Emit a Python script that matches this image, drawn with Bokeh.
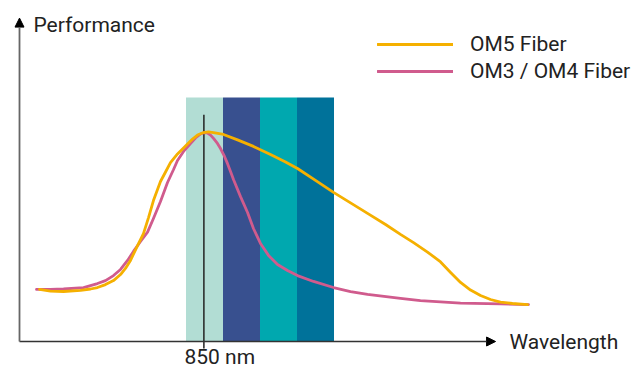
from bokeh.plotting import figure
from bokeh.models import Range1d, Arrow, NormalHead, Label, Legend, LegendItem
from bokeh.embed import file_html
from bokeh.resources import INLINE

# ---- data (wavelength in nm, performance in arbitrary units) ----
om3_nm = [713.8, 725.1, 735.7, 751.9, 763.2, 769.7, 776.2, 781.9, 787.6, 792.4, 798.1, 803.8,
          808.6, 814.3, 820.0, 824.9, 828.1, 833.0, 838.6, 842.7, 846.8, 850.0, 852.4, 854.9,
          857.3, 860.5, 863.0, 866.2, 868.6, 871.1, 873.5, 879.2, 884.9, 889.7, 895.4, 901.9,
          909.2, 917.3, 925.4, 938.4, 954.6, 968.4, 982.2, 1008.9, 1025.1, 1057.6, 1090.0, 1112.7]
om3_perf = [24.8, 24.8, 25.0, 25.7, 27.6, 29.0, 31.4, 34.3, 38.6, 42.9, 47.6, 52.1,
            58.6, 66.7, 75.7, 81.9, 86.2, 90.5, 94.3, 96.9, 98.8, 99.5, 99.3, 98.3,
            96.7, 94.3, 91.9, 88.1, 84.8, 81.0, 77.1, 69.0, 61.4, 53.8, 46.7, 41.0,
            36.7, 33.8, 31.4, 28.6, 25.7, 23.8, 22.4, 20.5, 19.5, 18.3, 17.9, 17.6]

om5_nm = [716.2, 725.1, 735.7, 749.5, 757.6, 763.2, 769.7, 776.2, 781.9, 785.9, 790.0, 795.7,
          800.5, 804.6, 808.6, 814.3, 818.4, 822.4, 828.1, 833.0, 836.2, 840.3, 844.3, 849.2,
          853.2, 857.3, 865.4, 876.8, 889.7, 903.5, 915.7, 925.4, 940.0, 954.6, 968.4, 982.2,
          996.8, 1008.9, 1019.5, 1030.8, 1041.4, 1049.5, 1057.6, 1065.7, 1073.8, 1081.9,
          1090.0, 1099.7, 1111.9]
om5_perf = [24.8, 24.0, 23.8, 24.3, 25.0, 25.7, 27.1, 29.0, 31.9, 34.8, 38.6, 45.7,
            51.4, 59.0, 67.1, 76.2, 80.7, 85.2, 89.3, 92.1, 94.0, 96.4, 98.3, 99.5,
            99.8, 99.5, 98.6, 96.0, 92.9, 89.0, 85.5, 82.4, 76.7, 71.0, 66.0, 61.0,
            55.7, 51.0, 47.1, 42.6, 37.9, 32.9, 28.1, 24.5, 21.9, 20.0,
            18.8, 18.1, 17.6]

band_center_nm = [850, 880, 910, 940]
band_width_nm = 30
band_top = 116.2
band_colors = ["#B2DDD4", "#38508F", "#00A8AF", "#00729A"]

marker_nm = 849.5
marker_label = "850 nm"

AXIS_X0, AXIS_X1 = 700, 1086
AXIS_Y1 = 154

ORANGE = "#F5B000"
PINK = "#D05B8D"
FONT = "Roboto"
FS = "21px"
TXT = "#222222"

p = figure(width=639, height=367, output_backend="svg", toolbar_location=None,
           x_range=Range1d(684.59, 1202.7), y_range=Range1d(-12.38, 162.38),
           min_border=0, min_border_left=0, min_border_right=0,
           min_border_top=0, min_border_bottom=0)
p.xaxis.visible = False
p.yaxis.visible = False
p.xgrid.visible = False
p.ygrid.visible = False
p.outline_line_color = None
p.background_fill_color = "white"
p.border_fill_color = "white"

# bands
lefts = [c - band_width_nm / 2 for c in band_center_nm]
rights = [c + band_width_nm / 2 for c in band_center_nm]
p.quad(left=lefts, right=rights, bottom=[0] * 4, top=[band_top] * 4,
       fill_color=band_colors, line_color=None)

# 850 nm marker
p.segment(x0=[marker_nm], y0=[-3.3], x1=[marker_nm], y1=[108], line_color="#222222", line_width=1.5)

# curves
r_om3 = p.line(om3_nm, om3_perf, line_color=PINK, line_width=2.8, line_join="round", line_cap="round")
r_om5 = p.line(om5_nm, om5_perf, line_color=ORANGE, line_width=2.8, line_join="round", line_cap="round")

# axes with arrows
p.add_layout(Arrow(x_start=AXIS_X0, y_start=0, x_end=AXIS_X1, y_end=0,
                   line_color="#333333", line_width=1.5,
                   end=NormalHead(size=9, fill_color="black", line_color="black")))
p.add_layout(Arrow(x_start=AXIS_X0, y_start=0, x_end=AXIS_X0, y_end=AXIS_Y1,
                   line_color="#666666", line_width=1.8,
                   end=NormalHead(size=9, fill_color="black", line_color="black")))

# texts
p.add_layout(Label(x=33, y=343, x_units="screen", y_units="screen", text="Performance",
                   text_font=FONT, text_font_size=FS, text_color=TXT, text_baseline="middle"))
p.add_layout(Label(x=509, y=26, x_units="screen", y_units="screen", text="Wavelength",
                   text_font=FONT, text_font_size=FS, text_color=TXT, text_baseline="middle"))
p.add_layout(Label(x=184, y=11, x_units="screen", y_units="screen", text=marker_label,
                   text_font=FONT, text_font_size=FS, text_color=TXT, text_baseline="middle"))

legend = Legend(items=[LegendItem(label="OM5 Fiber", renderers=[r_om5]),
                       LegendItem(label="OM3 / OM4 Fiber", renderers=[r_om3])],
                location=(377, 284))
legend.border_line_color = None
legend.background_fill_alpha = 0
legend.padding = 0
legend.margin = 0
legend.spacing = 3
legend.glyph_width = 76
legend.glyph_height = 24
legend.label_height = 24
legend.label_standoff = 17
legend.label_text_font = FONT
legend.label_text_font_size = FS
legend.label_text_color = TXT
p.add_layout(legend, "center")

open("out.html", "w").write(file_html(p, INLINE))
